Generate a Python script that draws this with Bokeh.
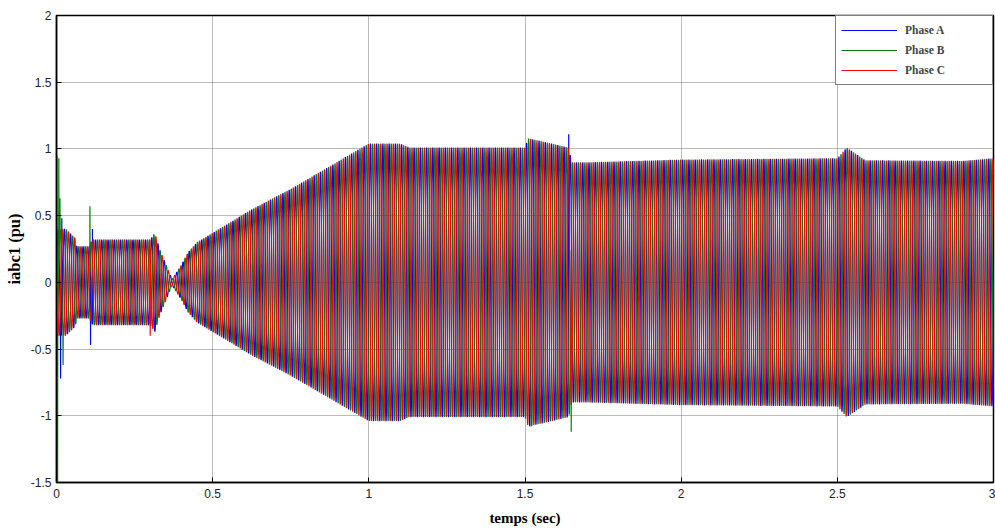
import numpy as np
from bokeh.plotting import figure
from bokeh.models import Range1d, FixedTicker, ColumnDataSource
from bokeh.embed import file_html
from bokeh.resources import INLINE

# ---- data ----
freq_hz = 50.0
phase_names = ["Phase A", "Phase B", "Phase C"]
phase_colors = ["#0000ff", "#008000", "#ff0000"]
phase_shift_deg = [0.0, -120.0, 120.0]

# amplitude envelope (pu) at key times (s)
env_t = [0.000, 0.030, 0.060, 0.065, 0.105, 0.115, 0.300, 0.315, 0.330, 0.370,
         0.400, 0.420, 0.450, 0.500, 0.550, 0.620, 0.750, 0.875, 0.970, 1.000,
         1.100, 1.130, 1.500, 1.510, 1.550, 1.640, 1.650, 1.700, 2.000, 2.480,
         2.500, 2.530, 2.590, 2.900, 3.000]
env_a = [0.40, 0.40, 0.33, 0.27, 0.27, 0.32, 0.32, 0.37, 0.25, 0.02,
         0.13, 0.22, 0.30, 0.37, 0.44, 0.54, 0.70, 0.87, 1.00, 1.04,
         1.04, 1.01, 1.01, 1.08, 1.06, 1.01, 0.90, 0.90, 0.92, 0.93,
         0.93, 1.01, 0.915, 0.91, 0.93]

# transient spikes: (phase index, time, value)
spike_phase = [0, 0, 0, 0, 0, 1, 1, 1, 1, 1, 1, 1, 2, 2, 2]
spike_t = [0.013, 0.017, 0.109, 0.115, 1.640, 0.0035, 0.0075, 0.011, 0.021, 0.107,
           1.520, 1.648, 0.0015, 0.006, 0.300]
spike_v = [-0.72, 0.48, -0.47, 0.40, 1.11, -1.50, 0.93, 0.63, -0.62, 0.57,
           -1.08, -1.12, 0.95, -0.30, -0.40]

x_ticks = [0, 0.5, 1, 1.5, 2, 2.5, 3]
x_tick_labels = ["0", "0.5", "1", "1.5", "2", "2.5", "3"]
y_ticks = [-1.5, -1, -0.5, 0, 0.5, 1, 1.5, 2]
y_tick_labels = ["-1.5", "-1", "-0.5", "0", "0.5", "1", "1.5", "2"]

# ---- build waveforms ----
dt = 0.0005
t = np.arange(0.0, 3.0 + dt / 2, dt)
amp = np.interp(t, env_t, env_a)
waves = []
for k in range(3):
    y = amp * np.sin(2 * np.pi * freq_hz * t + np.deg2rad(phase_shift_deg[k]))
    waves.append(y)
for ph, ts, v in zip(spike_phase, spike_t, spike_v):
    i = int(round(ts / dt))
    waves[ph][i] = v

p = figure(width=995, height=530, output_backend="svg", toolbar_location=None,
           x_range=Range1d(0, 3), y_range=Range1d(-1.5, 2),
           min_border_left=56, min_border_right=2, min_border_top=15,
           min_border_bottom=48)

for k in range(3):
    src = ColumnDataSource(dict(t=t, y=waves[k]))
    p.line("t", "y", source=src, line_color=phase_colors[k], line_width=1.2,
           legend_label=phase_names[k])

p.background_fill_color = "white"
p.border_fill_color = "white"
p.outline_line_color = "black"
p.outline_line_width = 1.5

def style_axis(ax, ticks, labels):
    ax.ticker = FixedTicker(ticks=ticks)
    ax.major_label_overrides = {tk: lb for tk, lb in zip(ticks, labels)}
    ax.minor_tick_line_color = None
    ax.major_tick_in = 5
    ax.major_tick_out = 0
    ax.axis_line_color = "black"
    ax.axis_line_width = 1.5
    ax.major_label_text_font = "Liberation Sans"
    ax.major_label_text_font_size = "12px"
    ax.major_label_text_color = "#222222"

style_axis(p.xaxis[0], x_ticks, x_tick_labels)
style_axis(p.yaxis[0], y_ticks, y_tick_labels)
p.xaxis[0].major_label_standoff = 6
p.yaxis[0].major_label_standoff = 5

p.xaxis[0].axis_label = "temps (sec)"
p.yaxis[0].axis_label = "iabc1 (pu)"
for ax in (p.xaxis[0], p.yaxis[0]):
    ax.axis_label_text_font = "Liberation Serif"
    ax.axis_label_text_font_style = "bold"
    ax.axis_label_text_color = "black"
p.xaxis[0].axis_label_text_font_size = "15px"
p.yaxis[0].axis_label_text_font_size = "16.5px"
p.xaxis[0].axis_label_standoff = 9
p.yaxis[0].axis_label_standoff = 4

p.xgrid.ticker = FixedTicker(ticks=x_ticks)
p.ygrid.ticker = FixedTicker(ticks=y_ticks)
for g in (p.xgrid[0], p.ygrid[0]):
    g.grid_line_color = "#555555"
    g.grid_line_dash = "1 1"
    g.grid_line_width = 1
    g.grid_line_alpha = 0.8

leg = p.legend[0]
leg.location = "top_right"
leg.margin = 0
leg.padding = 5
leg.spacing = 2
leg.glyph_width = 56
leg.glyph_height = 18
leg.label_height = 18
leg.label_width = 82
leg.label_standoff = 8
leg.label_text_font = "Liberation Serif"
leg.label_text_font_style = "bold"
leg.label_text_font_size = "11.5px"
leg.border_line_color = "black"
leg.border_line_width = 1.5
leg.background_fill_color = "white"
leg.background_fill_alpha = 1.0

open("out.html", "w").write(file_html(p, INLINE))
